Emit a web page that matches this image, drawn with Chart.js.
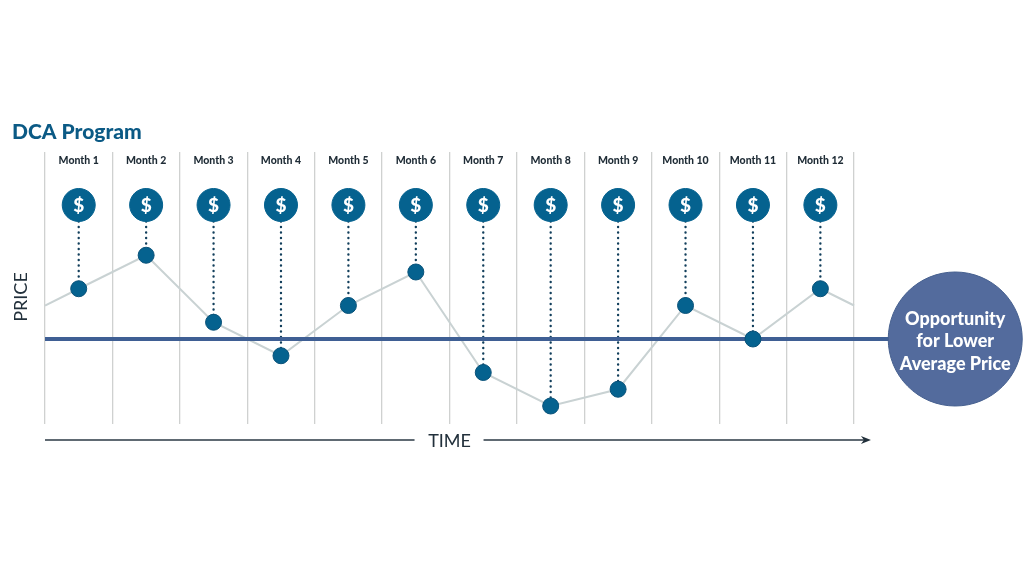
<!DOCTYPE html>
<html>
<head>
<meta charset="utf-8">
<title>DCA Program</title>
<script src="https://cdn.jsdelivr.net/npm/chart.js@4/dist/chart.umd.min.js"></script>
<style>
  html, body { margin: 0; padding: 0; background: #fff; }
  canvas { display: block; }
</style>
</head>
<body>
<canvas id="dcaChart" width="1024" height="576"></canvas>
<script>
const months = ["Month 1", "Month 2", "Month 3", "Month 4", "Month 5", "Month 6",
                "Month 7", "Month 8", "Month 9", "Month 10", "Month 11", "Month 12"];
const monthCenters = [0.5, 1.5, 2.5, 3.5, 4.5, 5.5, 6.5, 7.5, 8.5, 9.5, 10.5, 11.5];
const prices = [13, 15, 11, 9, 12, 14, 8, 6, 7, 12, 10, 13];
const priceAtStart = 12;
const priceAtEnd = 12;
const averagePrice = 10;
const purchaseLevel = 18;
const opportunityLabel = ["Opportunity", "for Lower", "Average Price"];
const monthsEnd = 12;
const opportunityAt = 13.5;

const BLUE = "#05628f";
const NAVY = "#3f5f94";
const FONT = "Lato, sans-serif";

const pricePoints = [{ x: 0, y: priceAtStart }]
    .concat(monthCenters.map((x, i) => ({ x: x, y: prices[i] })))
    .concat([{ x: monthsEnd, y: priceAtEnd }]);

// one dotted drop line per monthly purchase
const dropLines = monthCenters.map((x, i) => ({
    type: "line",
    data: [{ x: x, y: purchaseLevel }, { x: x, y: prices[i] }],
    borderColor: "#123f5c",
    borderWidth: 2.4,
    borderDash: [0.1, 5.4],
    borderCapStyle: "round",
    pointRadius: 0,
    order: 5
}));

const extras = {
    id: "extras",
    afterDatasetsDraw(chart) {
        const c = chart.ctx;
        const xs = chart.scales.x;
        const ys = chart.scales.y;
        c.save();

        // dollar signs on the coins
        c.fillStyle = "#fff";
        c.font = "900 19px " + FONT;
        c.textAlign = "center";
        c.textBaseline = "middle";
        monthCenters.forEach(x => c.fillText("$", xs.getPixelForValue(x), ys.getPixelForValue(purchaseLevel) + 1));

        // text in the big circle
        c.font = "900 18px " + FONT;
        const cx = xs.getPixelForValue(opportunityAt);
        const cy = ys.getPixelForValue(averagePrice);
        opportunityLabel.forEach((t, i) => c.fillText(t, cx, cy - 20 + i * 22.5));

        // heading
        c.fillStyle = "#0b5a85";
        c.font = "900 21px " + FONT;
        c.textAlign = "left";
        c.textBaseline = "alphabetic";
        c.fillText("DCA Program", 12, 139);

        // time axis with arrow
        const left = xs.getPixelForValue(0);
        const mid = xs.getPixelForValue(6);
        const right = xs.getPixelForValue(12.25);
        const ay = chart.chartArea.bottom + 16;
        c.strokeStyle = "#2c3a45";
        c.lineWidth = 1.4;
        c.beginPath();
        c.moveTo(left, ay); c.lineTo(mid - 35, ay);
        c.moveTo(mid + 34, ay); c.lineTo(right - 4, ay);
        c.stroke();
        c.fillStyle = "#22303b";
        c.beginPath();
        c.moveTo(right, ay); c.lineTo(right - 10, ay - 4); c.lineTo(right - 7, ay); c.lineTo(right - 10, ay + 4);
        c.closePath();
        c.fill();

        c.font = "400 18px " + FONT;
        c.textAlign = "center";
        c.textBaseline = "middle";
        c.fillText("TIME", mid, ay + 1);

        c.translate(21, 297);
        c.rotate(-Math.PI / 2);
        c.fillText("PRICE", 0, 0);
        c.restore();
    }
};

new Chart(document.getElementById("dcaChart").getContext("2d"), {
    type: "line",
    data: {
        datasets: [
            {
                label: "Opportunity",
                data: [{ x: opportunityAt, y: averagePrice }],
                showLine: false,
                pointRadius: 67,
                pointBackgroundColor: "#536b9d",
                pointBorderColor: "#46608f",
                pointBorderWidth: 1,
                order: 0
            },
            {
                label: "Purchases",
                data: monthCenters.map(x => ({ x: x, y: purchaseLevel })),
                showLine: false,
                pointRadius: 16.5,
                pointBackgroundColor: BLUE,
                pointBorderColor: BLUE,
                order: 1
            },
            {
                label: "Price points",
                data: monthCenters.map((x, i) => ({ x: x, y: prices[i] })),
                showLine: false,
                pointRadius: 8,
                pointBackgroundColor: BLUE,
                pointBorderColor: "#0a5279",
                pointBorderWidth: 1,
                order: 2
            },
            {
                label: "Average price",
                data: [{ x: 0, y: averagePrice }, { x: opportunityAt, y: averagePrice }],
                borderColor: NAVY,
                borderWidth: 4,
                pointRadius: 0,
                order: 3
            },
            {
                label: "Price",
                data: pricePoints,
                borderColor: "#c9d2d3",
                borderWidth: 2,
                pointRadius: 0,
                tension: 0,
                order: 4
            },
            ...dropLines
        ]
    },
    options: {
        responsive: false,
        animation: false,
        // autoPadding off: the month labels must not push the plot area inwards
        layout: { autoPadding: false, padding: { left: 45, right: 0, top: 152, bottom: 152 } },
        plugins: { legend: { display: false }, tooltip: { enabled: false } },
        scales: {
            x: {
                type: "linear",
                min: 0,
                max: 14.52,
                ticks: { display: false, stepSize: 1 },
                border: { display: false },
                grid: {
                    drawTicks: false,
                    lineWidth: 1.3,
                    color: ctx => ctx.tick && ctx.tick.value <= monthsEnd ? "#cfd1d0" : "transparent"
                }
            },
            monthAxis: {
                type: "linear",
                axis: "x",
                min: 0,
                max: 14.52,
                position: { y: 21.02 },
                afterBuildTicks: axis => { axis.ticks = monthCenters.map(v => ({ value: v })); },
                ticks: {
                    autoSkip: false,
                    maxRotation: 0,
                    padding: 0,
                    color: "#1f2c36",
                    font: { family: "Lato, sans-serif", size: 10.5, weight: "900" },
                    callback: v => months[monthCenters.indexOf(v)]
                },
                border: { display: false },
                grid: { display: false, drawTicks: false }
            },
            y: {
                display: false,
                min: 4.925,
                max: 21.164
            }
        }
    },
    plugins: [extras]
});
</script>
</body>
</html>
